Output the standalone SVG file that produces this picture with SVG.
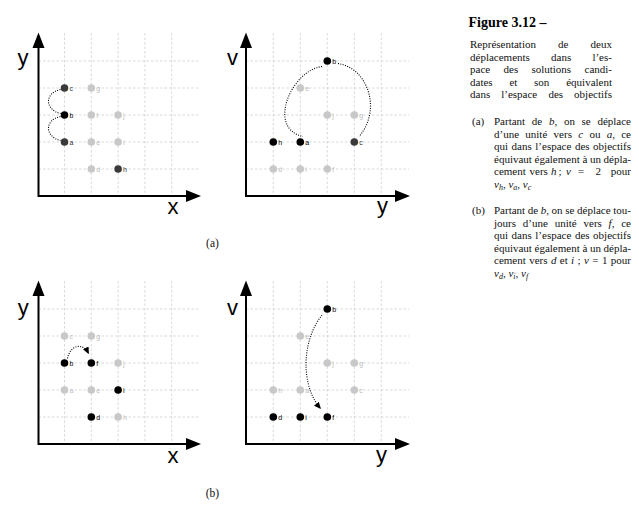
<svg xmlns="http://www.w3.org/2000/svg" width="639" height="511" viewBox="0 0 639 511">
<defs>
<style>
.grid{stroke:#cfcfcf;stroke-width:0.8;stroke-dasharray:2.5 2;fill:none}
.axis{stroke:#000;stroke-width:2;fill:none}
.head{fill:#000}
.ax{font-family:"Liberation Sans",Arial,sans-serif;font-size:22px;fill:#000;text-anchor:middle}
.nl{font-family:"Liberation Sans",Arial,sans-serif;font-size:7px}
.n0{fill:#000}.n1{fill:#3a3a3a}.n2{fill:#c8c8c8}
.l0{fill:#000}.l1{fill:#333}.l2{fill:#bdbdbd}
.dot{stroke:#000;stroke-width:1.1;stroke-dasharray:1 1.4;fill:none}
.tx{font-family:"Liberation Serif","Times New Roman",serif;font-size:11px;fill:#111}
.cap{font-family:"Liberation Serif","Times New Roman",serif;font-size:11.5px;fill:#111;text-anchor:middle}
.it{font-style:italic}
.sb{font-style:italic;font-size:8px}
</style>
<marker id="ah" viewBox="0 0 10 10" refX="9" refY="5" markerWidth="7" markerHeight="7" markerUnits="userSpaceOnUse" orient="auto"><path d="M0,0.5 L10,5 L0,9.5 z" fill="#000"/></marker>
</defs>

<g id="plot-tl">
<path class="grid" d="M64.5,33V196M91.3,33V196M118.1,33V196M144.9,33V196M171.7,33V196M38.5,61H200M38.5,88H200M38.5,115H200M38.5,142H200M38.5,169H200"/>
<path class="axis" d="M38.5,47V196H187"/>
<polygon class="head" points="38.5,32.5 32.5,48 44.5,48"/>
<polygon class="head" points="201,196 186,190 186,202"/>
<text class="ax" x="23" y="64.5">y</text>
<text class="ax" x="173" y="214">x</text>
</g>
<g id="plot-tr">
<path class="grid" d="M273.3,33V196M300.3,33V196M327.3,33V196M354.3,33V196M381.3,33V196M246,61H409M246,88H409M246,115H409M246,142H409M246,169H409"/>
<path class="axis" d="M246,47V196H396"/>
<polygon class="head" points="246,32.5 240,48 252,48"/>
<polygon class="head" points="410,196 395,190 395,202"/>
<text class="ax" x="232.5" y="65">v</text>
<text class="ax" x="382.5" y="213">y</text>
</g>
<g id="plot-bl">
<path class="grid" d="M64.5,281V444M91.3,281V444M118.1,281V444M144.9,281V444M171.7,281V444M38.5,309H200M38.5,336H200M38.5,363H200M38.5,390H200M38.5,417H200"/>
<path class="axis" d="M38.5,295V444H187"/>
<polygon class="head" points="38.5,280.5 32.5,296 44.5,296"/>
<polygon class="head" points="201,444 186,438 186,450"/>
<text class="ax" x="23.3" y="314.7">y</text>
<text class="ax" x="173" y="463">x</text>
</g>
<g id="plot-br">
<path class="grid" d="M273.3,281V444M300.3,281V444M327.3,281V444M354.3,281V444M381.3,281V444M246,309H409M246,336H409M246,363H409M246,390H409M246,417H409"/>
<path class="axis" d="M246,295V444H396"/>
<polygon class="head" points="246,280.5 240,296 252,296"/>
<polygon class="head" points="410,444 395,438 395,450"/>
<text class="ax" x="232.5" y="314.5">v</text>
<text class="ax" x="381.5" y="461.5">y</text>
</g>

<g id="connectors">
<path class="dot" d="M60.5,89.5 C44,93 45,110 60.5,113.5"/>
<path class="dot" d="M60.5,116.5 C44,120 45,137 60.5,140.5"/>
<path class="dot" d="M322,66.5 C292,70 266,128 303,136.5"/>
<path class="dot" d="M338,63.5 C368,68 382,110 359,136.5"/>
<path class="dot" d="M67.5,358.5 C70,345 83,342 88.5,353.5" marker-end="url(#ah)"/>
<path class="dot" d="M322,315 C302,340 300,385 320.5,408.5" marker-end="url(#ah)"/>
</g>

<g id="tl-c"><circle class="n1" cx="64.5" cy="88" r="3.8"/><text class="nl l1" x="69.5" y="91">c</text></g>
<g id="tl-g"><circle class="n2" cx="91.3" cy="88" r="3.8"/><text class="nl l2" x="96.3" y="91">g</text></g>
<g id="tl-b"><circle class="n0" cx="64.5" cy="115" r="3.8"/><text class="nl l0" x="69.5" y="118">b</text></g>
<g id="tl-f"><circle class="n2" cx="91.3" cy="115" r="3.8"/><text class="nl l2" x="96.3" y="118">f</text></g>
<g id="tl-j"><circle class="n2" cx="118.1" cy="115" r="3.8"/><text class="nl l2" x="123.1" y="118">j</text></g>
<g id="tl-a"><circle class="n1" cx="64.5" cy="142" r="3.8"/><text class="nl l1" x="69.5" y="145">a</text></g>
<g id="tl-e"><circle class="n2" cx="91.3" cy="142" r="3.8"/><text class="nl l2" x="96.3" y="145">e</text></g>
<g id="tl-i"><circle class="n2" cx="118.1" cy="142" r="3.8"/><text class="nl l2" x="123.1" y="145">i</text></g>
<g id="tl-d"><circle class="n2" cx="91.3" cy="169" r="3.8"/><text class="nl l2" x="96.3" y="172">d</text></g>
<g id="tl-h"><circle class="n1" cx="118.1" cy="169" r="3.8"/><text class="nl l1" x="123.1" y="172">h</text></g>

<g id="tr-b"><circle class="n0" cx="327.3" cy="61" r="3.8"/><text class="nl l0" x="332.3" y="64">b</text></g>
<g id="tr-e"><circle class="n2" cx="300.3" cy="88" r="3.8"/><text class="nl l2" x="305.3" y="91">e</text></g>
<g id="tr-j"><circle class="n2" cx="327.3" cy="115" r="3.8"/><text class="nl l2" x="332.3" y="118">j</text></g>
<g id="tr-g"><circle class="n2" cx="354.3" cy="115" r="3.8"/><text class="nl l2" x="359.3" y="118">g</text></g>
<g id="tr-h"><circle class="n0" cx="273.3" cy="142" r="3.8"/><text class="nl l0" x="278.3" y="145">h</text></g>
<g id="tr-a"><circle class="n0" cx="300.3" cy="142" r="3.8"/><text class="nl l0" x="305.3" y="145">a</text></g>
<g id="tr-c"><circle class="n1" cx="354.3" cy="142" r="3.8"/><text class="nl l1" x="359.3" y="145">c</text></g>
<g id="tr-d"><circle class="n2" cx="273.3" cy="169" r="3.8"/><text class="nl l2" x="278.3" y="172">d</text></g>
<g id="tr-i"><circle class="n2" cx="300.3" cy="169" r="3.8"/><text class="nl l2" x="305.3" y="172">i</text></g>
<g id="tr-f"><circle class="n2" cx="327.3" cy="169" r="3.8"/><text class="nl l2" x="332.3" y="172">f</text></g>

<g id="bl-c"><circle class="n2" cx="64.5" cy="336" r="3.8"/><text class="nl l2" x="69.5" y="339">c</text></g>
<g id="bl-g"><circle class="n2" cx="91.3" cy="336" r="3.8"/><text class="nl l2" x="96.3" y="339">g</text></g>
<g id="bl-b"><circle class="n0" cx="64.5" cy="363" r="3.8"/><text class="nl l0" x="69.5" y="366">b</text></g>
<g id="bl-f"><circle class="n0" cx="91.3" cy="363" r="3.8"/><text class="nl l0" x="96.3" y="366">f</text></g>
<g id="bl-j"><circle class="n2" cx="118.1" cy="363" r="3.8"/><text class="nl l2" x="123.1" y="366">j</text></g>
<g id="bl-a"><circle class="n2" cx="64.5" cy="390" r="3.8"/><text class="nl l2" x="69.5" y="393">a</text></g>
<g id="bl-e"><circle class="n2" cx="91.3" cy="390" r="3.8"/><text class="nl l2" x="96.3" y="393">e</text></g>
<g id="bl-i"><circle class="n0" cx="118.1" cy="390" r="3.8"/><text class="nl l0" x="123.1" y="393">i</text></g>
<g id="bl-d"><circle class="n0" cx="91.3" cy="417" r="3.8"/><text class="nl l0" x="96.3" y="420">d</text></g>
<g id="bl-h"><circle class="n2" cx="118.1" cy="417" r="3.8"/><text class="nl l2" x="123.1" y="420">h</text></g>

<g id="br-b"><circle class="n0" cx="327.3" cy="309" r="3.8"/><text class="nl l0" x="332.3" y="312">b</text></g>
<g id="br-e"><circle class="n2" cx="300.3" cy="336" r="3.8"/><text class="nl l2" x="305.3" y="339">e</text></g>
<g id="br-j"><circle class="n2" cx="327.3" cy="363" r="3.8"/><text class="nl l2" x="332.3" y="366">j</text></g>
<g id="br-g"><circle class="n2" cx="354.3" cy="363" r="3.8"/><text class="nl l2" x="359.3" y="366">g</text></g>
<g id="br-h"><circle class="n2" cx="273.3" cy="390" r="3.8"/><text class="nl l2" x="278.3" y="393">h</text></g>
<g id="br-a"><circle class="n2" cx="300.3" cy="390" r="3.8"/><text class="nl l2" x="305.3" y="393">a</text></g>
<g id="br-c"><circle class="n2" cx="354.3" cy="390" r="3.8"/><text class="nl l2" x="359.3" y="393">c</text></g>
<g id="br-d"><circle class="n0" cx="273.3" cy="417" r="3.8"/><text class="nl l0" x="278.3" y="420">d</text></g>
<g id="br-i"><circle class="n0" cx="300.3" cy="417" r="3.8"/><text class="nl l0" x="305.3" y="420">i</text></g>
<g id="br-f"><circle class="n0" cx="327.3" cy="417" r="3.8"/><text class="nl l0" x="332.3" y="420">f</text></g>

<text class="cap" x="212.5" y="247">(a)</text>
<text class="cap" x="212.5" y="496.5">(b)</text>

<g id="caption">
<text class="tx" x="468.5" y="26.5" style="font-size:14px;font-weight:bold;fill:#000">Figure 3.12 –</text>
<text class="tx" y="48"><tspan x="470">Représentation</tspan><tspan x="558.1">de</tspan><tspan x="590.6">deux</tspan></text>
<text class="tx" y="60.6"><tspan x="470">déplacements</tspan><tspan x="551.1">dans</tspan><tspan x="592.4">l’es-</tspan></text>
<text class="tx" y="73.2"><tspan x="470">pace</tspan><tspan x="503.5">des</tspan><tspan x="531.4">solutions</tspan><tspan x="584.5">candi-</tspan></text>
<text class="tx" y="85.8"><tspan x="470">dates</tspan><tspan x="509.4">et</tspan><tspan x="534.1">son</tspan><tspan x="566.2">équivalent</tspan></text>
<text class="tx" y="98.4"><tspan x="470">dans</tspan><tspan x="501.2">l’espace</tspan><tspan x="548.4">des</tspan><tspan x="574.1">objectifs</tspan></text>

<text class="tx" x="472" y="125">(a)</text>
<text class="tx" y="125"><tspan x="494">Partant</tspan><tspan x="531.8">de</tspan><tspan x="548.9"><tspan class="it">b</tspan>,</tspan><tspan x="563.9">on</tspan><tspan x="581.5">se</tspan><tspan x="597.4">déplace</tspan></text>
<text class="tx" y="137.6"><tspan x="494">d’une</tspan><tspan x="525.3">unité</tspan><tspan x="553.6">vers</tspan><tspan x="578.2" class="it">c</tspan><tspan x="589.4">ou</tspan><tspan x="606.7"><tspan class="it">a</tspan>,</tspan><tspan x="621.2">ce</tspan></text>
<text class="tx" y="150.2"><tspan x="494">qui</tspan><tspan x="511.6">dans</tspan><tspan x="535.3">l’espace</tspan><tspan x="574.9">des</tspan><tspan x="593.1">objectifs</tspan></text>
<text class="tx" y="162.8"><tspan x="494">équivaut</tspan><tspan x="534.5">également</tspan><tspan x="582.4">à</tspan><tspan x="589.9">un</tspan><tspan x="603.5">dépla-</tspan></text>
<text class="tx" y="175.4"><tspan x="494">cement</tspan><tspan x="529.5">vers</tspan><tspan x="551" class="it">h</tspan><tspan x="558.5">;</tspan><tspan x="566" class="it">v</tspan><tspan x="578">=</tspan><tspan x="595.5">2</tspan><tspan x="610.8">pour</tspan></text>
<text class="tx" x="494" y="188"><tspan class="it">v</tspan><tspan class="sb" dy="2">h</tspan><tspan dy="-2">, </tspan><tspan class="it">v</tspan><tspan class="sb" dy="2">a</tspan><tspan dy="-2">, </tspan><tspan class="it">v</tspan><tspan class="sb" dy="2">c</tspan></text>

<text class="tx" x="472" y="214">(b)</text>
<text class="tx" y="214"><tspan x="494">Partant</tspan><tspan x="527.8">de</tspan><tspan x="540.8"><tspan class="it">b</tspan>,</tspan><tspan x="551.6">on</tspan><tspan x="565.3">se</tspan><tspan x="577">déplace</tspan><tspan x="613.3">tou-</tspan></text>
<text class="tx" y="226.6"><tspan x="494">jours</tspan><tspan x="522.8">d’une</tspan><tspan x="554.7">unité</tspan><tspan x="583.5">vers</tspan><tspan x="608.6"><tspan class="it">f</tspan>,</tspan><tspan x="621.2">ce</tspan></text>
<text class="tx" y="239.2"><tspan x="494">qui</tspan><tspan x="511.6">dans</tspan><tspan x="535.3">l’espace</tspan><tspan x="574.9">des</tspan><tspan x="593.1">objectifs</tspan></text>
<text class="tx" y="251.8"><tspan x="494">équivaut</tspan><tspan x="534.5">également</tspan><tspan x="582.4">à</tspan><tspan x="589.9">un</tspan><tspan x="603.5">dépla-</tspan></text>
<text class="tx" y="264.4"><tspan x="494">cement</tspan><tspan x="529.2">vers</tspan><tspan x="550.9" class="it">d</tspan><tspan x="559.8">et</tspan><tspan x="571.1" class="it">i</tspan><tspan x="577.6">;</tspan><tspan x="584.1" class="it">v</tspan><tspan x="592.3">=</tspan><tspan x="601.9">1</tspan><tspan x="610.8">pour</tspan></text>
<text class="tx" x="494" y="277"><tspan class="it">v</tspan><tspan class="sb" dy="2">d</tspan><tspan dy="-2">, </tspan><tspan class="it">v</tspan><tspan class="sb" dy="2">i</tspan><tspan dy="-2">, </tspan><tspan class="it">v</tspan><tspan class="sb" dy="2">f</tspan></text>
</g>
</svg>
